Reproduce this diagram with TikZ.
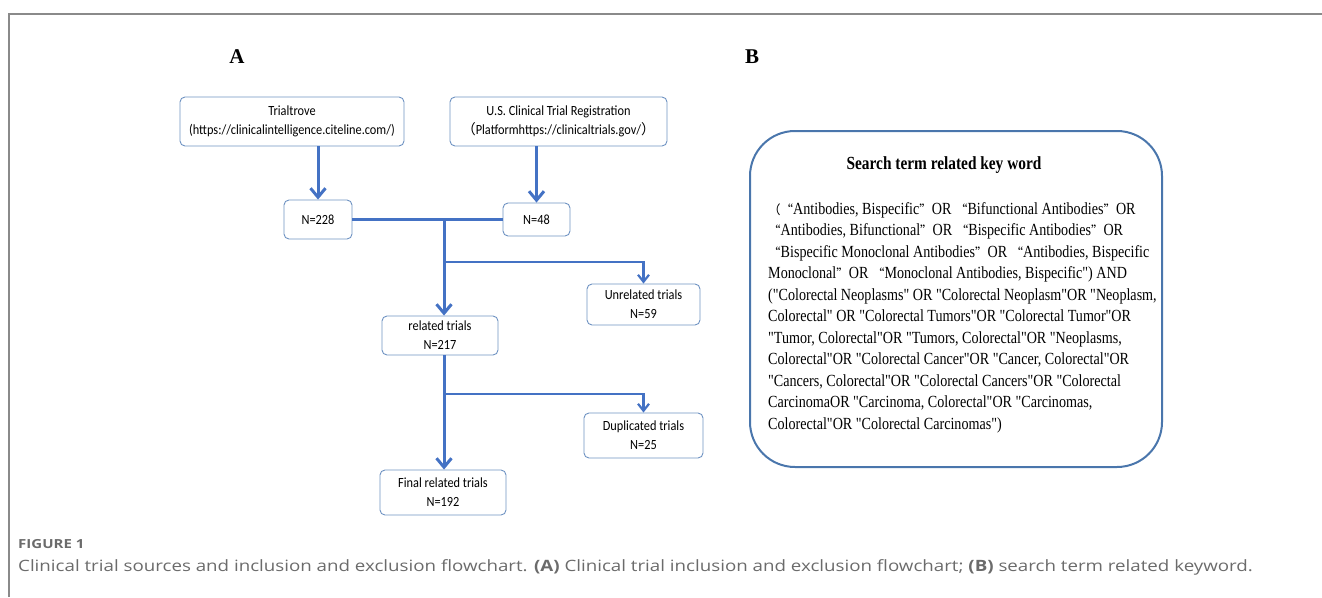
\documentclass[tikz,border=0pt]{standalone}
\usepackage{fontspec}
\setmainfont{Liberation Serif}
\newfontfamily\boxfont[FakeStretch=0.88]{Carlito}
\newfontfamily\capfont[FakeStretch=1.2]{Open Sans}
\newfontfamily\cjk{Noto Sans CJK SC}
\newfontfamily\bodyfont[FakeStretch=0.83]{Liberation Serif}
\newcommand{\fwopen}{{\cjk\fontsize{12.5}{12.5}\selectfont “}}
\newcommand{\fwclose}{{\cjk\fontsize{12.5}{12.5}\selectfont ”}}
\usepackage{tikz}
\usetikzlibrary{calc}
\usetikzlibrary{arrows.meta}
\definecolor{flowblue}{HTML}{4472C4}
\definecolor{boxline}{HTML}{6E92C2}
\definecolor{panelline}{HTML}{4A76AC}
\definecolor{framegray}{HTML}{8A8A8A}
\definecolor{capgray}{HTML}{6B6B6B}
\tikzset{
  trialbox/.style={draw=boxline, line width=0.9pt, rounded corners=5pt, align=center,
    font=\boxfont\fontsize{14}{19}\selectfont, inner sep=0pt},
  flow/.style={flowblue, line width=3pt},
  flowarr/.style={flow, -{Straight Barb[length=9pt, width=15pt, line width=3pt]}},
  sidearr/.style={flowblue, line width=2.2pt, -{Straight Barb[length=7pt, width=11pt, line width=2.2pt]}},
  panellabel/.style={font=\bfseries\fontsize{21}{21}\selectfont}
}
\begin{document}
\begin{tikzpicture}[x=1pt, y=-1pt]
  \useasboundingbox (0,0) rectangle (1322,597);
  \draw[framegray, line width=1.5pt] (9,597) -- (9,14) -- (1322,14);
  % panel A
  \node[panellabel] (labA) at (237,57) {A};
  \node[trialbox, minimum width=224, minimum height=49] (trial) at (292,121.5)
    {Trialtrove\\(https://clinicalintelligence.citeline.com/)};
  \node[trialbox, minimum width=217, minimum height=49] (usreg) at (558.5,121.5)
    {U.S. Clinical Trial Registration\\{\cjk （}Platformhttps://clinicaltrials.gov/{\cjk ）}};
  \node[trialbox, minimum width=68, minimum height=39] (nA) at (318,219.5) {N=228};
  \node[trialbox, minimum width=67, minimum height=33] (nB) at (536.5,219.5) {N=48};
  \node[trialbox, minimum width=113, minimum height=41] (unrel) at (643.5,304.5) {Unrelated trials\\N=59};
  \node[trialbox, minimum width=116, minimum height=39] (rel) at (440,335.5) {related trials\\N=217};
  \node[trialbox, minimum width=119, minimum height=45] (dup) at (643.5,435.5) {Duplicated trials\\N=25};
  \node[trialbox, minimum width=126, minimum height=45] (final) at (443,492.5) {Final related trials\\N=192};
  \coordinate (j1) at (444,220);
  \coordinate (b1) at (444,262);
  \coordinate (b2) at (444,394);
  \draw[flowarr] (trial.south -| nA.north) -- (nA.north);
  \draw[flowarr] (usreg.south -| nB.north) -- (nB.north);
  \draw[flow] (nA.east) -- (nB.west);
  \draw[flowarr] (j1) -- (j1 |- rel.north);
  \draw[sidearr] (b1) -- (b1 -| unrel.north) -- (unrel.north);
  \draw[flowarr] (j1 |- rel.south) -- (j1 |- final.north);
  \draw[sidearr] (b2) -- (b2 -| dup.north) -- (dup.north);
  % panel B
  \node[panellabel] (labB) at (752,57) {B};
  \draw[panelline, line width=2pt, rounded corners=45pt] (750,131) rectangle (1162,467);
  \node[font=\bfseries\bodyfont\fontsize{18.5}{18}\selectfont] (title) at (944,165) {Search term related key word};
  \node[font=\bodyfont\fontsize{17}{21.5}\selectfont, align=left, anchor=north west, inner sep=0pt] (terms) at (768,202)
    {{\cjk\fontsize{12.5}{12.5}\selectfont （}\fwopen Antibodies, Bispecific\fwclose OR \fwopen Bifunctional Antibodies\fwclose OR\\
     \fwopen Antibodies, Bifunctional\fwclose OR \fwopen Bispecific Antibodies\fwclose OR\\
     \fwopen Bispecific Monoclonal Antibodies\fwclose OR \fwopen Antibodies, Bispecific\\
     Monoclonal\fwclose OR \fwopen Monoclonal Antibodies, Bispecific") AND\\
     ("Colorectal Neoplasms" OR "Colorectal Neoplasm"OR "Neoplasm,\\
     Colorectal" OR "Colorectal Tumors"OR "Colorectal Tumor"OR\\
     "Tumor, Colorectal"OR "Tumors, Colorectal"OR "Neoplasms,\\
     Colorectal"OR "Colorectal Cancer"OR "Cancer, Colorectal"OR\\
     "Cancers, Colorectal"OR "Colorectal Cancers"OR "Colorectal\\
     CarcinomaOR "Carcinoma, Colorectal"OR "Carcinomas,\\
     Colorectal"OR "Colorectal Carcinomas")};
  % caption
  \node[font=\capfont\bfseries\fontsize{12.5}{12.5}\selectfont, text=capgray, anchor=west, inner sep=0pt] (figno) at (18,544) {FIGURE 1};
  \node[font=\capfont\fontsize{15.6}{15.6}\selectfont, text=capgray, anchor=west, inner sep=0pt] (caption) at (18,567)
    {Clinical trial sources and inclusion and exclusion flowchart. \textbf{(A)} Clinical trial inclusion and exclusion flowchart; \textbf{(B)} search term related keyword.};
\end{tikzpicture}
\end{document}
